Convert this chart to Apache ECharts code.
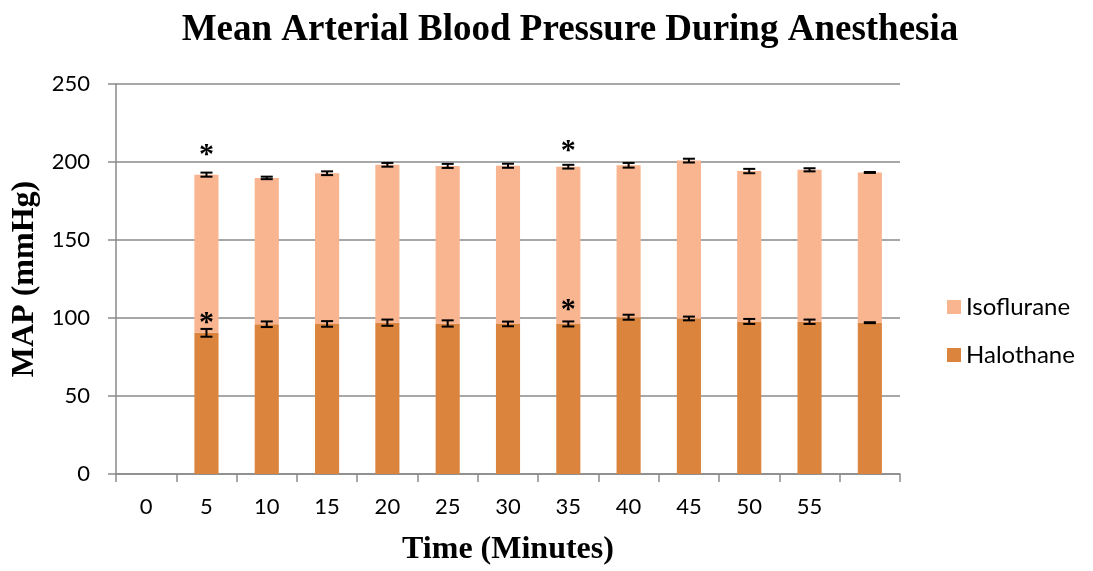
<!DOCTYPE html>
<html>
<head>
<meta charset="utf-8">
<script src="https://cdn.jsdelivr.net/npm/echarts@6/dist/echarts.min.js"></script>
<style>
html,body{margin:0;padding:0;background:#fff;}
#chart{width:1093px;height:571px;}
</style>
</head>
<body>
<div id="chart"></div>
<script>
// Categories (minutes); the last bar has no label in the original
var timeLabels = ['0','5','10','15','20','25','30','35','40','45','50','55',''];
// Halothane MAP (bottom segment), mmHg
var halothane = [null, 90.5, 96.0, 96.2, 97.0, 96.5, 96.2, 96.2, 100.5, 99.7, 97.8, 97.6, 97.0];
// Isoflurane MAP (stacked segment), mmHg
var isoflurane = [null, 101.4, 93.8, 96.6, 101.2, 101.0, 101.4, 100.8, 97.4, 101.2, 96.4, 97.4, 96.3];
// Error bars (half-widths)
var halothaneErr = [null, 2.5, 1.8, 1.8, 2.0, 2.0, 1.5, 1.6, 1.6, 1.2, 1.6, 1.4, 0.3];
var isofluraneErr = [null, 1.3, 0.8, 1.2, 1.2, 1.3, 1.3, 1.2, 1.5, 1.2, 1.4, 1.0, 0.3];
// Significance markers: [category index, value]
var starsHalothane = [[1, 99.7], [7, 108.0]];
var starsIsoflurane = [[1, 207.7], [7, 210.4]];

var colorHal = '#DB843D';
var colorIso = '#F9B58F';
var gridGray = '#8A8A8A';

var halErrData = [], isoErrData = [];
for (var i = 0; i < timeLabels.length; i++) {
  if (halothane[i] != null) {
    halErrData.push([i, halothane[i], halothaneErr[i]]);
    isoErrData.push([i, halothane[i] + isoflurane[i], isofluraneErr[i]]);
  }
}

function errRender(params, api) {
  var x = api.value(0), v = api.value(1), e = api.value(2);
  var top = api.coord([x, v + e]);
  var bot = api.coord([x, v - e]);
  var cx = top[0];
  var hw = 6;
  var st = { stroke: '#000', lineWidth: 2 };
  return {
    type: 'group',
    children: [
      { type: 'line', shape: { x1: cx, y1: top[1], x2: cx, y2: bot[1] }, style: st },
      { type: 'line', shape: { x1: cx - hw, y1: top[1], x2: cx + hw, y2: top[1] }, style: st },
      { type: 'line', shape: { x1: cx - hw, y1: bot[1], x2: cx + hw, y2: bot[1] }, style: st }
    ]
  };
}

function starRender(params, api) {
  var p = api.coord([api.value(0), api.value(1)]);
  return {
    type: 'text',
    x: p[0], y: p[1] + 5,
    style: {
      text: '*', fill: '#000', font: 'bold 30px "Liberation Serif"',
      align: 'center', verticalAlign: 'middle'
    }
  };
}

var chart = echarts.init(document.getElementById('chart'), null, { renderer: 'canvas' });
chart.setOption({
  animation: false,
  backgroundColor: '#fff',
  title: {
    text: 'Mean Arterial Blood Pressure During Anesthesia',
    left: 565, top: 7, textAlign: 'center',
    textStyle: { fontFamily: 'Liberation Serif', fontWeight: 'bold', fontSize: 37, color: '#000' }
  },
  legend: {
    data: ['Isoflurane', 'Halothane'],
    orient: 'vertical', left: 942, top: 290,
    icon: 'rect', itemWidth: 14, itemHeight: 14, itemGap: 24,
    textStyle: { fontFamily: 'Lato', fontSize: 24, color: '#000' }
  },
  grid: { left: 116, right: 193, top: 84, height: 393.5, containLabel: false },
  xAxis: {
    type: 'category', data: timeLabels,
    name: 'Time (Minutes)', nameLocation: 'middle', nameGap: 60,
    nameTextStyle: { fontFamily: 'Liberation Serif', fontWeight: 'bold', fontSize: 32, color: '#000' },
    axisLine: { lineStyle: { color: gridGray, width: 1.5 } },
    axisTick: { show: true, length: 8, lineStyle: { color: gridGray, width: 1.5 } },
    axisLabel: { fontFamily: 'Lato', fontSize: 22, color: '#000', margin: 22, interval: 0 }
  },
  yAxis: {
    type: 'value', min: 0, max: 250, interval: 50,
    name: 'MAP (mmHg)', nameLocation: 'middle', nameGap: 74, nameRotate: 90,
    nameTextStyle: { fontFamily: 'Liberation Serif', fontWeight: 'bold', fontSize: 32, color: '#000' },
    axisLine: { show: true, lineStyle: { color: gridGray, width: 1.5 } },
    axisTick: { show: true, length: 8, lineStyle: { color: gridGray, width: 1.5 } },
    axisLabel: { fontFamily: 'Lato', fontSize: 22, color: '#000', margin: 26 },
    splitLine: { show: true, lineStyle: { color: gridGray, width: 1.5 } }
  },
  series: [
    {
      name: 'Halothane', type: 'bar', stack: 'map', data: halothane,
      barWidth: '40%', itemStyle: { color: colorHal }
    },
    {
      name: 'Isoflurane', type: 'bar', stack: 'map', data: isoflurane,
      barWidth: '40%', itemStyle: { color: colorIso }
    },
    { type: 'custom', name: 'errH', renderItem: errRender, data: halErrData, z: 10, silent: true },
    { type: 'custom', name: 'errI', renderItem: errRender, data: isoErrData, z: 10, silent: true },
    { type: 'custom', name: 'starH', renderItem: starRender, data: starsHalothane, z: 11, silent: true },
    { type: 'custom', name: 'starI', renderItem: starRender, data: starsIsoflurane, z: 11, silent: true }
  ]
});
</script>
</body>
</html>
